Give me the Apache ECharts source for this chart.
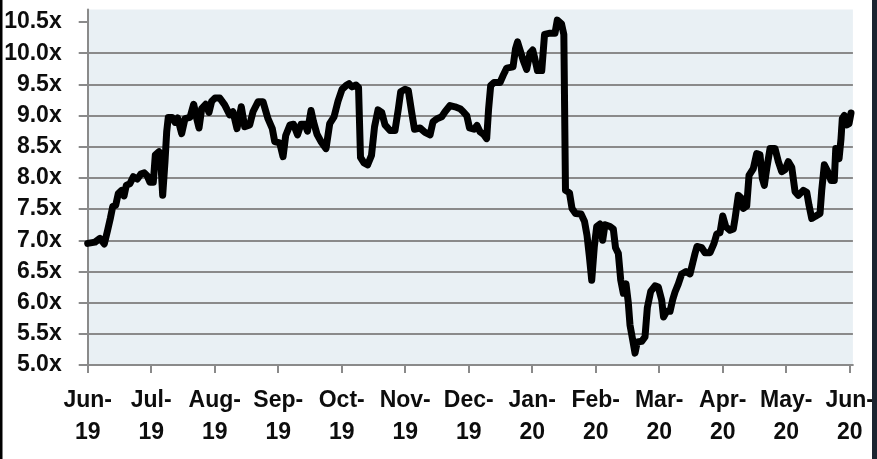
<!DOCTYPE html>
<html><head><meta charset="utf-8">
<script src="https://cdn.jsdelivr.net/npm/echarts@6/dist/echarts.min.js"></script>
<style>html,body{margin:0;padding:0;background:#fff}#c{width:877px;height:459px}</style>
</head><body><div id="c"></div>
<script>
// Month tick labels (Excel-style "mmm-yy")
const tickLabels = ['Jun-\n19','Jul-\n19','Aug-\n19','Sep-\n19','Oct-\n19','Nov-\n19','Dec-\n19','Jan-\n20','Feb-\n20','Mar-\n20','Apr-\n20','May-\n20','Jun-\n20'];
const monthTicks = [0,1,2,3,4,5,6,7,8,9,10,11,12];
const yTicks = [5.0,5.5,6.0,6.5,7.0,7.5,8.0,8.5,9.0,9.5,10.0,10.5];
// Position in months since Jun-19
const monthPos = [0.000,0.115,0.194,0.261,0.309,0.356,0.394,0.441,0.482,0.535,0.572,0.608,0.666,0.718,0.781,0.835,0.891,0.939,0.981,1.033,
1.065,1.123,1.154,1.181,1.217,1.244,1.269,1.332,1.375,1.417,1.480,1.532,1.611,1.669,1.717,1.753,1.795,1.858,1.910,1.953,
2.005,2.079,2.157,2.236,2.288,2.351,2.419,2.472,2.551,2.603,2.682,2.761,2.839,2.907,2.945,3.024,3.076,3.118,3.186,3.241,
3.304,3.359,3.422,3.461,3.517,3.556,3.611,3.674,3.753,3.811,3.879,3.942,4.005,4.068,4.115,4.162,4.225,4.265,4.296,4.351,
4.409,4.469,4.517,4.572,4.630,4.682,4.761,4.839,4.891,4.929,4.997,5.049,5.102,5.146,5.233,5.312,5.391,5.438,5.501,5.575,
5.627,5.706,5.784,5.863,5.915,5.969,6.013,6.083,6.131,6.178,6.241,6.283,6.312,6.346,6.398,6.493,6.545,6.598,6.698,6.737,
6.769,6.808,6.860,6.913,6.965,7.008,7.044,7.083,7.150,7.194,7.280,7.359,7.395,7.461,7.498,7.524,7.587,7.627,7.682,7.769,
7.824,7.863,7.899,7.937,7.978,8.016,8.068,8.110,8.146,8.225,8.277,8.312,8.356,8.394,8.435,8.477,8.513,8.540,8.583,8.619,
8.655,8.724,8.776,8.813,8.866,8.934,8.986,9.039,9.068,9.118,9.170,9.213,9.249,9.301,9.354,9.422,9.485,9.528,9.564,9.595,
9.669,9.721,9.800,9.863,9.906,9.957,10.000,10.047,10.115,10.167,10.194,10.246,10.288,10.324,10.378,10.414,10.482,10.535,10.587,10.624,
10.655,10.693,10.745,10.824,10.876,10.929,10.981,11.033,11.087,11.139,11.191,11.269,11.323,11.359,11.402,11.454,11.532,11.559,11.600,11.654,
11.706,11.757,11.780,11.832,11.863,11.883,11.915,11.953,11.989,12.020];
// Valuation multiple (x)
const multiple = [6.95,6.97,7.03,6.94,7.14,7.35,7.54,7.56,7.75,7.80,7.71,7.88,7.91,8.02,7.98,8.06,8.08,8.03,7.93,7.93,
8.37,8.42,8.21,7.72,8.26,8.74,8.97,8.97,8.89,8.96,8.71,8.95,8.97,9.18,8.95,8.80,9.11,9.18,9.05,9.23,
9.28,9.28,9.17,9.01,9.06,8.79,9.14,8.82,8.85,9.06,9.22,9.22,8.95,8.79,8.58,8.56,8.34,8.68,8.85,8.86,
8.69,8.86,8.86,8.75,9.08,8.90,8.70,8.58,8.47,8.87,8.98,9.23,9.42,9.48,9.51,9.46,9.49,9.45,8.33,8.24,
8.21,8.36,8.82,9.09,9.05,8.85,8.76,8.76,9.10,9.38,9.42,9.40,9.05,8.78,8.80,8.73,8.69,8.90,8.95,8.98,
9.06,9.16,9.14,9.11,9.06,9.00,8.80,8.78,8.84,8.74,8.69,8.63,9.09,9.48,9.53,9.53,9.65,9.76,9.78,10.07,
10.18,10.05,9.88,9.74,10.00,10.05,9.90,9.72,9.72,10.30,10.32,10.32,10.53,10.47,10.30,7.80,7.76,7.51,7.43,7.42,
7.30,7.08,6.75,6.36,6.90,7.22,7.26,7.00,7.25,7.22,7.18,6.88,6.79,6.36,6.15,6.30,6.00,5.64,5.40,5.19,
5.37,5.38,5.45,5.92,6.18,6.27,6.25,6.04,5.77,5.86,5.86,6.05,6.17,6.30,6.46,6.50,6.46,6.64,6.79,6.90,
6.88,6.80,6.80,6.95,7.10,7.12,7.39,7.22,7.16,7.18,7.35,7.72,7.68,7.51,7.55,8.04,8.15,8.39,8.37,7.99,
7.88,8.15,8.47,8.47,8.26,8.10,8.13,8.26,8.17,7.78,7.72,7.80,7.77,7.56,7.35,7.38,7.43,7.80,8.21,8.10,
7.96,7.96,8.47,8.31,8.63,8.95,9.00,8.85,8.87,9.04];

const FONT = 'Liberation Sans';
const GRAY = '#8a8a8a';
const chart = echarts.init(document.getElementById('c'), null, {renderer: 'canvas'});
chart.setOption({
  animation: false,
  grid: {left: 87.7, right: 24, top: 9.5, bottom: 94, show: true, backgroundColor: '#e9f0f4', borderWidth: 0, containLabel: false},
  xAxis: {
    type: 'value', min: 0, max: 12.05,
    axisLine: {show: true, onZero: false, lineStyle: {color: GRAY, width: 2}},
    axisTick: {show: true, customValues: monthTicks, length: 8, lineStyle: {color: GRAY, width: 2}},
    axisLabel: {customValues: monthTicks, formatter: v => tickLabels[Math.round(v)], fontFamily: FONT, fontWeight: 'bold', fontSize: 23, color: '#0d0d0d', lineHeight: 32, margin: 20},
    splitLine: {show: false}
  },
  yAxis: {
    type: 'value', min: 5, max: 10.7, interval: 0.5,
    axisLine: {show: true, onZero: false, lineStyle: {color: GRAY, width: 2}},
    axisTick: {show: true, customValues: yTicks, length: 9, lineStyle: {color: GRAY, width: 2}},
    axisLabel: {customValues: yTicks, formatter: v => v.toFixed(1) + 'x', fontFamily: FONT, fontWeight: 'bold', fontSize: 23, color: '#0d0d0d', margin: 26},
    splitLine: {show: true, showMaxLine: false, showMinLine: false, lineStyle: {color: GRAY, width: 2}}
  },
  series: [{
    type: 'line',
    data: monthPos.map((t, i) => [t, multiple[i]]),
    showSymbol: false,
    lineStyle: {color: '#000', width: 7, join: 'round', cap: 'round'},
    clip: true
  }],
  graphic: [
    {type: 'rect', left: 0, top: 0, shape: {width: 2.5, height: 459}, style: {fill: '#000'}, z: 100},
    {type: 'rect', right: 0, top: 0, shape: {width: 5, height: 459}, style: {fill: '#1b2430'}, z: 100}
  ]
});
</script></body></html>
